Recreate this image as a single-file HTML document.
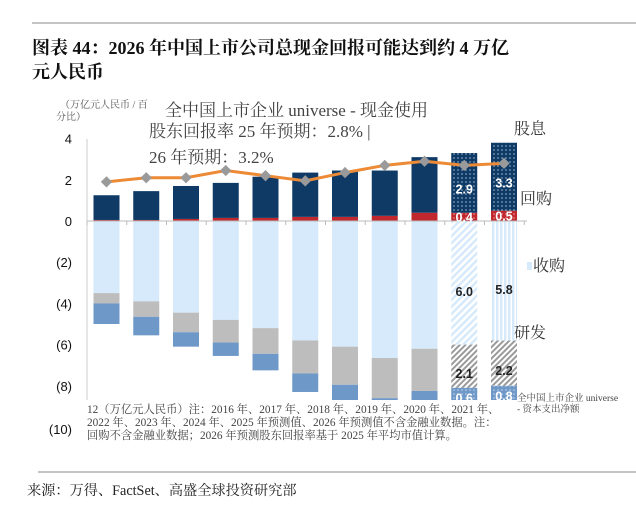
<!DOCTYPE html>
<html><head><meta charset="utf-8"><style>
body{margin:0;background:#fff;width:636px;height:527px;overflow:hidden;font-family:"Liberation Serif","Noto Serif CJK SC",serif}
</style></head><body>
<svg width="636" height="527" viewBox="0 0 636 527" xmlns="http://www.w3.org/2000/svg">
<defs>
<pattern id="pNavy" width="4" height="4" patternUnits="userSpaceOnUse"><rect width="4" height="4" fill="#0f3a66"/><circle cx="2" cy="2" r="0.9" fill="#7f9cbc"/></pattern>
<pattern id="pRed" width="4" height="4" patternUnits="userSpaceOnUse"><rect width="4" height="4" fill="#c0282e"/><circle cx="2" cy="2" r="0.8" fill="#f0a0a0"/></pattern>
<pattern id="pLight" width="5" height="5" patternUnits="userSpaceOnUse" patternTransform="rotate(45)"><rect width="5" height="5" fill="#fff"/><rect width="2.5" height="5" fill="#d6eafb"/></pattern>
<pattern id="pLight2" width="4" height="4" patternUnits="userSpaceOnUse"><rect width="4" height="4" fill="#fff"/><rect width="2.4" height="4" fill="#d6eafb"/></pattern>
<pattern id="pGray" width="4" height="4" patternUnits="userSpaceOnUse" patternTransform="rotate(45)"><rect width="4" height="4" fill="#fff"/><rect width="2" height="4" fill="#9a9a9a"/></pattern>
<pattern id="pBlue" width="4" height="4" patternUnits="userSpaceOnUse"><rect width="4" height="4" fill="#6e98c8"/><circle cx="2" cy="2" r="0.8" fill="#c5d6ea"/></pattern>
<clipPath id="plotClip"><rect x="80" y="100" width="450" height="300"/></clipPath>
</defs>
<line x1="32" y1="23" x2="636" y2="23" stroke="#888" stroke-width="1"/>
<text x="32" y="54" font-size="18" font-weight="bold" fill="#111">图表 44：2026 年中国上市公司总现金回报可能达到约 4 万亿</text>
<text x="32" y="78" font-size="18" font-weight="bold" fill="#111">元人民币</text>
<text x="60" y="108" font-size="10" fill="#555">（万亿元人民币 / 百</text>
<text x="56" y="120" font-size="10" fill="#555">分比）</text>
<g id="yticks" font-family="Liberation Sans,sans-serif" font-size="13" fill="#111" text-anchor="end"></g>
<g id="bars" clip-path="url(#plotClip)"></g>
<line id="axis0" stroke="#bbb" stroke-width="1"/>
<line x1="87" y1="139" x2="87" y2="400" stroke="#ccc" stroke-width="1"/>
<g id="line"></g>
<g id="labels" font-family="Liberation Sans,sans-serif" font-weight="bold" font-size="12.5" text-anchor="middle"></g>
<text x="165" y="116" font-size="17" fill="#444">全中国上市企业 universe - 现金使用</text>
<text x="149" y="137" font-size="17" fill="#444">股东回报率 25 年预期：2.8% |</text>
<text x="149" y="163" font-size="17" fill="#444">26 年预期：3.2%</text>
<text x="514" y="134" font-size="16" fill="#333">股息</text>
<text x="520" y="204" font-size="16" fill="#333">回购</text>
<rect x="527" y="262" width="5" height="8" fill="#d6eafb"/>
<text x="533" y="271" font-size="16" fill="#333">收购</text>
<text x="514" y="338" font-size="16" fill="#333">研发</text>
<text x="517" y="401" font-size="9.5" fill="#444">全中国上市企业 universe</text>
<text x="517" y="412" font-size="9.5" fill="#444">- 资本支出净额</text>
<g font-size="11.3" fill="#444">
<text x="87" y="413">12（万亿元人民币）注：2016 年、2017 年、2018 年、2019 年、2020 年、2021 年、</text>
<text x="87" y="426">2022 年、2023 年、2024 年、2025 年预测值、2026 年预测值不含金融业数据。注：</text>
<text x="87" y="439">回购不含金融业数据；2026 年预测股东回报率基于 2025 年平均市值计算。</text>
</g>
<text x="72" y="434" font-family="Liberation Sans,sans-serif" font-size="13" fill="#111" text-anchor="end">(10)</text>
<line x1="38" y1="472" x2="636" y2="472" stroke="#888" stroke-width="1"/>
<text x="27" y="495" font-size="14.2" fill="#222">来源：万得、FactSet、高盛全球投资研究部</text>
</svg>
<script>
const years=["2016","2017","2018","2019","2020","2021","2022","2023","2024","2025E","2026E"];
const buyback=[0.05,0.05,0.1,0.15,0.15,0.2,0.2,0.25,0.4,0.4,0.5];
const dividend=[1.2,1.4,1.6,1.7,2.0,2.15,2.25,2.2,2.7,2.9,3.3];
const acquisition=[3.5,3.9,4.45,4.8,5.2,5.8,6.1,6.65,6.2,6.0,5.8];
const rnd=[0.5,0.75,0.95,1.1,1.25,1.6,1.85,1.95,2.05,2.1,2.2];
const capex=[1.0,0.9,0.7,0.65,0.8,0.9,0.8,0.7,0.6,0.6,0.8];
const payoutRatio=[1.9,2.1,2.1,2.45,2.2,1.95,2.35,2.7,2.9,2.7,2.8];
const yTicks=[4,2,0,-2,-4,-6,-8];
const yTickLabels=["4","2","0","(2)","(4)","(6)","(8)"];
const forecastFrom=9;
const NS="http://www.w3.org/2000/svg";
function y(v){return 221-v*20.6;}
function xc(i){return 106.5+i*39.75;}
const BW=26;
function mk(tag,attrs,parent){const e=document.createElementNS(NS,tag);for(const k in attrs)e.setAttribute(k,attrs[k]);parent.appendChild(e);return e;}
const yt=document.getElementById('yticks');
yTicks.forEach((t,i)=>{const e=mk('text',{x:72,y:y(t)+5},yt);e.textContent=yTickLabels[i];

});
const ax=document.getElementById('axis0');
ax.setAttribute('x1',87);ax.setAttribute('x2',527);ax.setAttribute('y1',y(0));ax.setAttribute('y2',y(0));
for(let i=0;i<=years.length;i++){mk('line',{x1:87+i*39.75,x2:87+i*39.75,y1:y(0),y2:y(0)+4,stroke:'#bbb'},document.getElementById('labels'));}
const g=document.getElementById('bars');
function bar(i,v0,v1,fill,name){const top=Math.min(y(v0),y(v1)),h=Math.abs(y(v1)-y(v0));
const r=mk('rect',{x:xc(i)-BW/2,y:top,width:BW,height:h,fill:fill},g);

}
years.forEach((yr,i)=>{const f=i>=forecastFrom;
bar(i,0,buyback[i],f?'url(#pRed)':'#c0282e','bar-buyback-'+yr);
bar(i,buyback[i],buyback[i]+dividend[i],f?'url(#pNavy)':'#0f3a66','bar-dividend-'+yr);
const a=-acquisition[i],r=a-rnd[i],c=r-capex[i];
bar(i,0,a,f?(i==9?'url(#pLight)':'url(#pLight2)'):'#d6eafb','bar-acquisition-'+yr);
bar(i,a,r,f?'url(#pGray)':'#bdbdbd','bar-rnd-'+yr);
bar(i,r,c,f?'url(#pBlue)':'#6e98c8','bar-capex-'+yr);});
const lg=document.getElementById('line');
const pts=payoutRatio.map((v,i)=>xc(i)+','+y(v)).join(' ');
const pl=mk('polyline',{points:pts,fill:'none',stroke:'#ec8a35','stroke-width':3},lg);


payoutRatio.forEach((v,i)=>{const d=mk('rect',{x:xc(i)-4,y:y(v)-4,width:8,height:8,fill:'#9a9a9a',transform:`rotate(45 ${xc(i)} ${y(v)})`},lg);

});
const L=document.getElementById('labels');
function lab(i,v,txt,col,name){const t=mk('text',{x:xc(i),y:y(v)+4.5,fill:col},L);t.textContent=txt;

}
for(let i=forecastFrom;i<years.length;i++){
lab(i,buyback[i]+dividend[i]/2-0.3,dividend[i].toFixed(1),'#fff','label-dividend-'+years[i]);
lab(i,buyback[i]/2,buyback[i].toFixed(1),'#fff','label-buyback-'+years[i]);
lab(i,-acquisition[i]*0.52-0.3,acquisition[i].toFixed(1),'#222','label-acquisition-'+years[i]);
lab(i,-acquisition[i]-rnd[i]/2-0.35,rnd[i].toFixed(1),'#222','label-rnd-'+years[i]);
lab(i,-acquisition[i]-rnd[i]-0.5,capex[i].toFixed(1),'#fff','label-capex-'+years[i]);}
</script>
</body></html>
